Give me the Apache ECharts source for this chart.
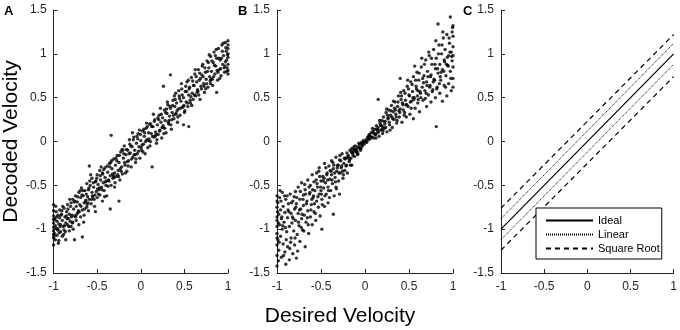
<!DOCTYPE html>
<html>
<head>
<meta charset="utf-8">
<script src="https://cdn.jsdelivr.net/npm/echarts@6/dist/echarts.min.js"></script>
<style>
  html, body { margin: 0; padding: 0; background: #fff; }
  #chart { width: 680px; height: 330px; }
</style>
</head>
<body>
<div id="chart"></div>
<script>
// Тики осей
const xTicks = [-1, -0.5, 0, 0.5, 1];
const yTicks = [-1.5, -1, -0.5, 0, 0.5, 1, 1.5];

// A: desired vs decoded (ровный разброс)
const pointsA = [
  [-1.00,-0.72],[-1.00,-0.85],[-1.00,-0.93],[-1.00,-1.02],[-1.00,-1.10],[-1.00,-0.98],[-1.00,-1.18],[-0.99,-0.88],[-0.99,-1.05],[-0.98,-0.96],
  [-0.98,-1.12],[-0.97,-0.80],[-0.97,-0.99],[-0.96,-0.91],[-0.96,-1.07],[-0.95,-0.84],[-0.95,-1.00],[-0.94,-0.94],[-0.94,-1.13],[-0.93,-0.78],
  [-0.93,-0.87],[-0.92,-1.03],[-0.92,-0.95],[-0.91,-0.83],[-0.90,-1.08],[-0.90,-0.90],[-0.89,-0.97],[-0.88,-0.76],[-0.88,-1.01],[-0.87,-0.86],
  [-0.86,-0.93],[-0.86,-1.12],[-0.85,-0.80],[-0.84,-0.95],[-0.84,-0.72],[-0.83,-0.88],[-0.82,-1.02],[-0.82,-0.83],[-0.81,-0.91],[-0.80,-0.70],
  [-0.80,-0.97],[-0.79,-0.84],[-0.78,-0.66],[-0.78,-0.92],[-0.77,-0.77],[-0.76,-1.12],[-0.76,-0.85],[-0.75,-0.62],[-0.74,-0.74],[-0.74,-0.90],
  [-0.73,-0.69],[-0.72,-0.81],[-0.71,-0.58],[-0.71,-0.95],[-0.70,-0.72],[-0.69,-0.64],[-0.69,-0.86],[-0.68,-0.53],[-0.67,-0.78],[-0.67,-1.09],
  [-0.66,-0.62],[-0.65,-0.70],[-0.65,-0.84],[-0.64,-0.56],[-0.63,-0.67],[-0.62,-0.75],[-0.62,-0.48],[-0.61,-0.63],[-0.60,-0.79],[-0.60,-0.55],
  [-0.59,-0.66],[-0.59,-0.28],[-0.58,-0.50],[-0.57,-0.71],[-0.56,-0.58],[-0.56,-0.42],[-0.55,-0.63],[-0.54,-0.52],[-0.53,-0.74],[-0.52,-0.80],
  [-0.52,-0.46],[-0.51,-0.57],[-0.50,-0.38],[-0.50,-0.64],[-0.49,-0.49],[-0.48,-0.55],[-0.47,-0.33],[-0.47,-0.61],[-0.46,-0.44],[-0.45,-0.52],
  [-0.44,-0.68],[-0.44,-0.36],[-0.43,-0.47],[-0.42,-0.56],[-0.41,-0.30],[-0.41,-0.41],[-0.40,-0.50],[-0.39,-0.62],[-0.38,-0.35],[-0.37,-0.44],
  [-0.36,-0.25],[-0.35,-0.77],[-0.35,-0.39],[-0.34,0.07],[-0.34,-0.50],[-0.33,-0.31],[-0.32,-0.42],[-0.31,-0.20],[-0.30,-0.36],[-0.30,-0.52],
  [-0.29,-0.27],[-0.28,-0.40],[-0.27,-0.16],[-0.26,-0.33],[-0.25,-0.68],[-0.25,-0.24],[-0.24,-0.44],[-0.23,-0.12],[-0.22,-0.29],[-0.21,-0.37],
  [-0.20,-0.19],[-0.19,-0.05],[-0.18,-0.27],[-0.17,-0.15],[-0.16,-0.34],[-0.15,-0.10],[-0.14,-0.22],[-0.13,0.02],[-0.12,-0.13],[-0.11,-0.29],
  [-0.10,-0.06],[-0.09,-0.18],[-0.08,0.05],[-0.07,-0.10],[-0.06,-0.24],[-0.05,-0.02],[-0.04,-0.14],[-0.03,0.09],[-0.02,-0.06],[-0.01,-0.19],
  [0.00,0.01],[0.01,-0.10],[0.02,0.12],[0.03,-0.03],[0.04,0.06],[0.05,-0.14],[0.06,0.15],[0.07,0.02],[0.08,-0.07],[0.09,0.10],
  [0.10,0.20],[0.11,0.00],[0.12,0.09],[0.13,-0.29],[0.14,0.17],[0.15,0.05],[0.16,0.25],[0.17,0.11],[0.18,-0.02],[0.19,0.19],
  [0.20,0.08],[0.21,0.30],[0.22,0.13],[0.23,0.22],[0.24,0.04],[0.25,0.27],[0.26,0.63],[0.26,0.16],[0.27,0.36],[0.28,0.24],
  [0.29,0.10],[0.30,0.32],[0.31,0.42],[0.32,0.20],[0.33,0.29],[0.34,0.76],[0.34,0.38],[0.35,0.14],[0.36,0.33],[0.37,0.47],
  [0.38,0.26],[0.39,0.40],[0.40,0.55],[0.40,0.31],[0.41,0.44],[0.42,0.22],[0.43,0.37],[0.44,0.52],[0.45,0.30],[0.46,0.46],
  [0.47,0.60],[0.48,0.39],[0.49,0.19],[0.49,0.50],[0.50,0.33],[0.51,0.57],[0.52,0.45],[0.53,0.68],[0.54,0.40],[0.55,0.17],
  [0.55,0.53],[0.56,0.62],[0.57,0.44],[0.58,0.73],[0.59,0.55],[0.60,0.48],[0.61,0.64],[0.62,0.77],[0.63,0.52],[0.64,0.68],
  [0.65,0.59],[0.66,0.82],[0.67,0.70],[0.68,0.48],[0.69,0.63],[0.70,0.76],[0.71,0.88],[0.72,0.66],[0.73,0.56],[0.74,0.79],
  [0.75,0.71],[0.76,0.92],[0.77,0.62],[0.78,0.84],[0.79,0.74],[0.80,0.97],[0.80,0.66],[0.81,0.80],[0.82,0.71],[0.83,0.90],
  [0.84,1.02],[0.85,0.77],[0.86,0.86],[0.87,0.56],[0.87,0.95],[0.88,0.70],[0.89,1.06],[0.90,0.82],[0.91,0.93],[0.92,0.75],
  [0.93,1.10],[0.94,0.88],[0.95,0.98],[0.96,0.79],[0.97,1.13],[0.97,0.91],[0.98,1.03],[0.99,0.84],[1.00,0.96],[1.00,1.15],
  [1.00,0.77],[1.00,1.06],[1.00,0.88],
  [-0.985,-0.89],[-0.955,-1.01],[-0.915,-0.84],[-0.875,-0.96],[-0.835,-0.77],[-0.795,-0.86],[-0.755,-0.68],[-0.715,-0.79],[-0.675,-0.61],[-0.635,-0.69],
  [-0.595,-0.53],[-0.555,-0.62],[-0.515,-0.45],[-0.475,-0.53],[-0.435,-0.37],[-0.395,-0.45],[-0.355,-0.29],[-0.315,-0.39],[-0.275,-0.22],[-0.235,-0.31],
  [-0.195,-0.14],[-0.155,-0.23],[-0.115,-0.05],[-0.075,-0.15],[-0.035,0.03],[0.005,-0.07],[0.045,0.10],[0.085,0.01],[0.125,0.17],[0.165,0.06],
  [0.205,0.25],[0.245,0.16],[0.285,0.33],[0.325,0.24],[0.365,0.41],[0.405,0.32],[0.445,0.49],[0.485,0.40],[0.525,0.57],[0.565,0.47],
  [0.605,0.64],[0.645,0.56],[0.685,0.72],[0.725,0.63],[0.765,0.80],[0.805,0.71],[0.845,0.87],[0.885,0.79],[0.925,0.95],[0.965,0.86],
  [-0.995,-1.08],[-0.965,-0.86],[-0.935,-1.04],[-0.905,-0.79],[-0.885,-1.06],[-0.855,-0.85],[-0.825,-0.97],[-0.805,-0.74],[-0.785,-0.93],[-0.765,-0.69],
  [-0.745,-0.86],[-0.725,-0.63],[-0.705,-0.80],[-0.685,-0.74],[-0.665,-0.56],[-0.645,-0.77],[-0.625,-0.60],[-0.605,-0.70],[-0.585,-0.45],[-0.565,-0.66],
  [-0.545,-0.47],[-0.525,-0.61],[-0.505,-0.42],[-0.485,-0.60],[-0.465,-0.39],[-0.445,-0.55],[-0.425,-0.32],[-0.405,-0.46],[-0.385,-0.28],[-0.365,-0.45],
  [-0.345,-0.24],[-0.325,-0.37],[-0.305,-0.41],[-0.285,-0.19],[-0.265,-0.38],[-0.245,-0.16],[-0.225,-0.34],[-0.205,-0.10],[-0.185,-0.24],[-0.165,-0.09],
  [-0.145,-0.28],[-0.125,-0.03],[-0.105,-0.20],[-0.085,0.02],[-0.065,-0.15],[-0.045,0.06],[-0.025,-0.11],[-0.005,0.08],[0.015,-0.04],[0.035,0.14],
  [0.055,0.00],[0.075,0.17],[0.095,0.03],[0.115,0.20],[0.135,0.06],[0.155,0.23],[0.175,0.08],[0.195,0.27],[0.215,0.12],[0.235,0.31],
  [0.255,0.18],[0.275,0.15],[0.295,0.37],[0.315,0.22],[0.335,0.40],[0.355,0.25],[0.375,0.30],[0.395,0.48],[0.415,0.35],[0.435,0.58],
  [0.455,0.38],[0.475,0.53],[0.495,0.41],[0.515,0.63],[0.535,0.44],[0.555,0.60],[0.575,0.51],[0.595,0.69],[0.615,0.53],[0.635,0.74],
  [0.655,0.57],[0.675,0.78],[0.695,0.60],[0.715,0.74],[0.735,0.84],[0.755,0.66],[0.775,0.90],[0.795,0.69],[0.815,0.92],[0.835,0.74],
  [0.855,0.98],[0.875,0.81],[0.895,0.95],[0.915,0.83],[0.935,1.03],[0.955,0.84],[0.975,1.07],[0.985,0.80],[0.995,0.99],
  [-0.975,-0.74],[-0.945,-1.16],[-0.925,-0.97],[-0.895,-0.74],[-0.865,-1.03],[-0.845,-0.88],[-0.815,-0.66],[-0.775,-1.00],[-0.735,-0.83],[-0.695,-0.56],
  [-0.655,-0.92],[-0.615,-0.72],[-0.575,-0.38],[-0.535,-0.66],[-0.495,-0.54],[-0.455,-0.29],[-0.415,-0.63],[-0.375,-0.51],[-0.335,-0.22],[-0.295,-0.47],
  [-0.255,-0.40],[-0.215,-0.09],[-0.175,-0.36],[-0.135,-0.14],[-0.095,0.10],[-0.055,-0.20],[-0.015,0.13],[0.025,-0.12],[0.065,0.21],[0.105,-0.05],
  [0.145,0.31],[0.185,0.02],[0.225,0.38],[0.265,0.09],[0.305,0.45],[0.345,0.19],[0.385,0.52],[0.425,0.28],[0.465,0.66],[0.505,0.35],
  [0.545,0.70],[0.585,0.41],[0.625,0.82],[0.665,0.53],[0.705,0.86],[0.745,0.60],[0.785,0.99],[0.825,0.64],[0.865,1.05],[0.905,0.72],
  [0.945,1.12],[0.985,0.93],[1.00,0.81],[1.00,1.00],[1.00,1.10],[-1.00,-0.79],[-1.00,-1.06],[-1.00,-0.89]
];

// B: разброс растёт к краям
const pointsB = [
  [-1.00,-0.62],[-1.00,-0.75],[-1.00,-0.86],[-1.00,-0.97],[-1.00,-1.05],[-1.00,-1.18],[-1.00,-1.30],[-1.00,-0.90],[-1.00,-1.42],[-0.99,-0.70],
  [-0.99,-1.12],[-0.98,-0.83],[-0.98,-1.24],[-0.97,-0.95],[-0.97,-0.64],[-0.96,-1.08],[-0.96,-0.78],[-0.95,-1.32],[-0.95,-0.88],[-0.94,-1.00],
  [-0.94,-0.58],[-0.93,-1.17],[-0.93,-0.74],[-0.92,-0.92],[-0.91,-1.26],[-0.91,-0.81],[-0.90,-0.66],[-0.90,-1.40],[-0.89,-1.03],[-0.88,-0.87],
  [-0.88,-1.20],[-0.87,-0.71],[-0.86,-0.97],[-0.86,-1.35],[-0.85,-0.60],[-0.84,-1.10],[-0.84,-0.82],[-0.83,-0.93],[-0.82,-1.28],[-0.82,-0.68],
  [-0.81,-1.02],[-0.80,-0.77],[-0.80,-1.18],[-0.79,-0.57],[-0.79,-0.90],[-0.78,-1.33],[-0.78,-0.71],[-0.77,-1.06],[-0.76,-0.82],[-0.76,-0.52],
  [-0.75,-0.96],[-0.74,-0.66],[-0.74,-1.14],[-0.73,-0.77],[-0.72,-0.47],[-0.72,-0.88],[-0.71,-1.01],[-0.70,-0.61],[-0.70,-0.73],[-0.69,-0.84],
  [-0.68,-1.20],[-0.68,-0.55],[-0.67,-0.92],[-0.66,-0.68],[-0.65,-0.44],[-0.65,-0.79],[-0.64,-1.05],[-0.63,-0.60],[-0.62,-0.86],[-0.62,-0.50],
  [-0.61,-0.72],[-0.60,-0.95],[-0.60,-0.38],[-0.59,-0.64],[-0.58,-0.80],[-0.58,-0.46],[-0.57,-0.56],[-0.56,-0.90],[-0.55,-0.36],[-0.55,-0.68],
  [-0.54,-0.52],[-0.53,-0.75],[-0.52,-0.30],[-0.52,-0.60],[-0.51,-0.85],[-0.50,-0.45],[-0.50,-0.56],[-0.49,-1.00],[-0.49,-0.66],[-0.48,-0.40],
  [-0.47,-0.53],[-0.46,-0.74],[-0.46,-0.25],[-0.45,-0.47],[-0.44,-0.60],[-0.43,-0.36],[-0.42,-0.52],[-0.42,-0.70],[-0.41,-0.28],[-0.40,-0.43],
  [-0.39,-0.56],[-0.38,-0.22],[-0.38,-0.38],[-0.37,-0.48],[-0.36,-0.83],[-0.36,-0.31],[-0.35,-0.62],[-0.34,-0.41],[-0.33,-0.18],[-0.33,-0.52],
  [-0.32,-0.34],[-0.31,-0.27],[-0.30,-0.45],[-0.29,-0.60],[-0.29,-0.21],[-0.28,-0.36],[-0.27,-0.30],[-0.26,-0.14],[-0.25,-0.42],[-0.24,-0.25],
  [-0.23,-0.33],[-0.22,-0.19],[-0.21,-0.27],[-0.20,-0.36],[-0.19,-0.16],[-0.18,-0.23],[-0.17,-0.10],[-0.16,-0.19],[-0.15,-0.27],[-0.14,-0.13],
  [-0.13,-0.09],[-0.12,-0.17],[-0.11,-0.05],[-0.10,-0.12],[-0.09,-0.08],[-0.08,-0.14],[-0.07,-0.02],[-0.06,-0.07],[-0.05,-0.10],[-0.04,-0.01],
  [-0.03,-0.05],[-0.02,0.01],[-0.01,-0.03],[0.00,0.00],[-0.15,-0.08],[-0.12,-0.11],[-0.09,-0.12],[-0.06,-0.03],[-0.03,-0.02],[0.01,0.02],
  [0.02,-0.01],[0.03,0.05],[0.04,0.02],[0.05,0.08],[0.06,0.03],[0.07,0.10],[0.08,0.05],[0.09,0.12],[0.10,0.04],[0.11,0.14],
  [0.12,0.08],[0.13,0.18],[0.14,0.10],[0.15,0.48],[0.15,0.16],[0.16,0.06],[0.17,0.21],[0.18,0.13],[0.19,0.24],[0.20,0.09],
  [0.20,0.17],[0.21,0.28],[0.22,0.15],[0.23,0.23],[0.24,0.33],[0.25,0.11],[0.26,0.26],[0.27,0.36],[0.28,0.19],[0.29,0.30],
  [0.30,0.41],[0.31,0.16],[0.32,0.34],[0.33,0.25],[0.34,0.45],[0.35,0.31],[0.36,0.21],[0.37,0.40],[0.38,0.52],[0.39,0.28],
  [0.40,0.72],[0.40,0.37],[0.41,0.48],[0.42,0.22],[0.43,0.42],[0.44,0.58],[0.45,0.33],[0.46,0.47],[0.47,0.28],[0.48,0.63],
  [0.49,0.40],[0.50,0.53],[0.51,0.31],[0.52,0.68],[0.53,0.46],[0.54,0.57],[0.55,0.26],[0.55,0.74],[0.56,0.50],[0.57,0.38],
  [0.58,0.63],[0.59,0.79],[0.60,0.44],[0.60,0.58],[0.61,0.70],[0.62,0.34],[0.63,0.55],[0.64,0.85],[0.65,0.62],[0.66,0.47],
  [0.67,0.75],[0.68,0.58],[0.69,0.93],[0.70,0.40],[0.70,0.68],[0.71,0.80],[0.72,0.53],[0.73,0.98],[0.74,0.64],[0.75,0.45],
  [0.75,0.76],[0.76,0.88],[0.77,0.59],[0.78,1.05],[0.79,0.70],[0.80,0.50],[0.80,0.83],[0.81,0.17],[0.81,0.95],[0.82,0.62],
  [0.83,1.34],[0.83,0.78],[0.84,1.10],[0.85,0.55],[0.85,0.88],[0.86,0.70],[0.87,1.00],[0.88,0.46],[0.88,0.82],[0.89,1.18],
  [0.90,0.64],[0.90,0.93],[0.91,1.05],[0.92,0.75],[0.93,0.52],[0.93,1.22],[0.94,0.87],[0.95,0.98],[0.95,0.66],[0.96,1.12],
  [0.97,1.42],[0.97,0.80],[0.98,1.02],[0.98,0.58],[0.99,0.92],[0.99,1.25],[1.00,0.72],[1.00,1.08],[1.00,0.85],[1.00,1.20],
  [1.00,0.98],
  [-0.985,-0.93],[-0.945,-0.86],[-0.905,-0.98],[-0.865,-0.80],[-0.825,-0.86],[-0.785,-0.75],[-0.745,-0.78],[-0.705,-0.66],[-0.665,-0.71],[-0.625,-0.58],
  [-0.585,-0.62],[-0.545,-0.48],[-0.505,-0.52],[-0.465,-0.42],[-0.425,-0.44],[-0.385,-0.34],[-0.345,-0.36],[-0.305,-0.27],[-0.265,-0.28],[-0.225,-0.20],
  [-0.185,-0.19],[-0.145,-0.13],[-0.105,-0.10],[0.105,0.09],[0.145,0.13],[0.185,0.18],[0.225,0.20],[0.265,0.27],[0.305,0.28],[0.345,0.36],
  [0.385,0.35],[0.425,0.44],[0.465,0.42],[0.505,0.52],[0.545,0.50],[0.585,0.60],[0.625,0.57],[0.665,0.67],[0.705,0.64],[0.745,0.74],
  [0.785,0.71],[0.825,0.83],[0.865,0.79],[0.905,0.91],[0.945,0.86],[0.985,0.97],
  [-0.995,-0.80],[-0.975,-1.15],[-0.955,-0.68],[-0.935,-0.96],[-0.915,-0.62],[-0.895,-1.12],[-0.875,-0.78],[-0.855,-1.22],[-0.835,-0.70],[-0.815,-0.88],
  [-0.795,-1.10],[-0.775,-0.64],[-0.755,-0.92],[-0.735,-0.57],[-0.715,-0.83],[-0.695,-1.02],[-0.675,-0.60],[-0.655,-0.87],[-0.635,-0.52],[-0.615,-0.78],
  [-0.595,-0.55],[-0.575,-0.71],[-0.555,-0.44],[-0.535,-0.63],[-0.515,-0.40],[-0.495,-0.60],[-0.475,-0.45],[-0.455,-0.62],[-0.435,-0.38],[-0.415,-0.56],
  [-0.395,-0.33],[-0.375,-0.44],[-0.355,-0.27],[-0.335,-0.46],[-0.315,-0.30],[-0.295,-0.36],[-0.275,-0.22],[-0.255,-0.34],[-0.235,-0.19],[-0.215,-0.28],
  [-0.195,-0.17],[-0.175,-0.21],[-0.155,-0.12],[-0.135,-0.16],[-0.115,-0.09],[-0.095,-0.11],[-0.075,-0.06],[-0.055,-0.08],[-0.035,-0.04],[-0.015,-0.01],
  [0.015,0.00],[0.035,0.04],[0.055,0.06],[0.075,0.05],[0.095,0.10],[0.115,0.08],[0.135,0.14],[0.155,0.11],[0.175,0.19],[0.195,0.14],
  [0.215,0.23],[0.235,0.16],[0.255,0.30],[0.275,0.22],[0.295,0.35],[0.315,0.26],[0.335,0.38],[0.355,0.28],[0.375,0.45],[0.395,0.33],
  [0.415,0.52],[0.435,0.36],[0.455,0.55],[0.475,0.42],[0.495,0.60],[0.515,0.45],[0.535,0.65],[0.555,0.48],[0.575,0.70],[0.595,0.52],
  [0.615,0.78],[0.635,0.50],[0.655,0.72],[0.675,0.88],[0.695,0.55],[0.715,0.74],[0.735,0.62],[0.755,0.95],[0.775,0.68],[0.795,0.88],
  [0.815,0.60],[0.835,1.00],[0.855,0.74],[0.875,1.10],[0.895,0.80],[0.915,0.62],[0.935,0.96],[0.955,1.18],[0.975,0.72],[0.995,1.30],
  [-0.985,-1.36],[-0.965,-0.56],[-0.925,-1.30],[-0.885,-0.62],[-0.845,-1.15],[-0.805,-0.63],[-0.765,-1.25],[-0.725,-0.98],[-0.685,-0.49],[-0.645,-0.95],
  [-0.605,-0.66],[-0.565,-0.82],[-0.525,-0.34],[-0.485,-0.72],[-0.445,-0.30],[-0.405,-0.64],[-0.365,-0.24],[-0.325,-0.54],[-0.285,-0.16],[-0.245,-0.38],
  [-0.205,-0.13],[-0.165,-0.27],[-0.125,-0.06],[-0.085,-0.15],[-0.045,-0.08],[0.045,0.07],[0.085,0.15],[0.125,0.04],[0.165,0.24],[0.205,0.12],
  [0.245,0.37],[0.285,0.13],[0.325,0.46],[0.365,0.24],[0.405,0.56],[0.445,0.30],[0.485,0.70],[0.525,0.38],[0.565,0.86],[0.605,0.48],
  [0.645,0.95],[0.685,0.49],[0.725,1.02],[0.765,0.57],[0.805,1.15],[0.845,0.66],[0.885,1.25],[0.925,0.88],[0.965,1.02],[1.00,0.62],
  [1.00,1.32],[-1.00,-1.10],[-1.00,-0.68]
];

// C: линии
const lineX = [-1, 1];
const idealY = [-1, 1];
const linearUpperY = [-0.88, 1.12];
const linearLowerY = [-1.12, 0.88];
const sqrtUpperY = [-0.76, 1.22];
const sqrtLowerY = [-1.24, 0.74];

const FONT = 'Liberation Sans, Arial, sans-serif';
const AXIS_COLOR = '#262626';

const pairs = (ys) => lineX.map((x, i) => [x, ys[i]]);

const grids = [
    {left: 52, right: 452, top: 10, bottom: 57},
    {left: 277, right: 227, top: 10, bottom: 57},
    {left: 501, right: 2, top: 10, bottom: 57}
];

function makeX(idx) {
    return {
        type: 'value', gridIndex: idx,
        min: xTicks[0], max: xTicks[xTicks.length - 1], interval: 0.5,
        axisLine: {show: true, onZero: false, lineStyle: {color: AXIS_COLOR, width: 1}},
        axisTick: {show: true, inside: true, length: 4, lineStyle: {color: AXIS_COLOR}},
        axisLabel: {color: AXIS_COLOR, fontSize: 12, fontFamily: FONT, margin: 8},
        splitLine: {show: false}
    };
}

function makeY(idx) {
    const ax = {
        type: 'value', gridIndex: idx,
        min: yTicks[0], max: yTicks[yTicks.length - 1], interval: 0.5,
        axisLine: {show: true, onZero: false, lineStyle: {color: AXIS_COLOR, width: 1}},
        axisTick: {show: true, inside: true, length: 4, lineStyle: {color: AXIS_COLOR}},
        axisLabel: {color: AXIS_COLOR, fontSize: 12, fontFamily: FONT, margin: 7},
        splitLine: {show: false}
    };
    if (idx === 0) {
        ax.name = 'Decoded Velocity';
        ax.nameLocation = 'middle';
        ax.nameGap = 30;
        ax.nameTextStyle = {color: '#000', fontSize: 21, fontFamily: FONT};
    }
    return ax;
}

const scatterStyle = {color: '#000'};
const letterStyle = {fontSize: 13, fontWeight: 'bold', fontFamily: FONT, color: '#000'};

const chart = echarts.init(document.getElementById('chart'), null, {renderer: 'canvas'});
chart.setOption({
    animation: false,
    backgroundColor: '#fff',
    title: [
        {text: 'A', left: 0, top: 0, padding: [5, 4], textStyle: letterStyle},
        {text: 'B', left: 234, top: 0, padding: [5, 4], textStyle: letterStyle},
        {text: 'C', left: 459, top: 0, padding: [5, 4], textStyle: letterStyle}
    ],
    graphic: [{
        type: 'text', left: 'center', top: 306,
        style: {text: 'Desired Velocity', font: '21px ' + FONT, fill: '#000'}
    }],
    legend: {
        data: ['Ideal', 'Linear', 'Square Root'],
        orient: 'vertical',
        left: 536, top: 208,
        padding: [7, 2, 5, 9],
        itemGap: 3,
        itemWidth: 47, itemHeight: 10,
        borderColor: '#000', borderWidth: 1,
        backgroundColor: '#fff',
        itemStyle: {opacity: 0},
        textStyle: {fontSize: 11, fontFamily: FONT, color: '#000'}
    },
    grid: grids,
    xAxis: [makeX(0), makeX(1), makeX(2)],
    yAxis: [makeY(0), makeY(1), makeY(2)],
    series: [
        {type: 'scatter', xAxisIndex: 0, yAxisIndex: 0, data: pointsA, symbolSize: 3.4, itemStyle: scatterStyle},
        {type: 'scatter', xAxisIndex: 1, yAxisIndex: 1, data: pointsB, symbolSize: 3.4, itemStyle: scatterStyle},
        {name: 'Ideal', type: 'line', xAxisIndex: 2, yAxisIndex: 2, data: pairs(idealY), symbol: 'none',
            lineStyle: {color: '#000', width: 1.2, type: 'solid'}, itemStyle: {color: '#000'}},
        {name: 'Linear', type: 'line', xAxisIndex: 2, yAxisIndex: 2, data: pairs(linearUpperY), symbol: 'none',
            lineStyle: {color: '#000', width: 1, type: [1, 1]}, itemStyle: {color: '#000'}},
        {name: 'Linear', type: 'line', xAxisIndex: 2, yAxisIndex: 2, data: pairs(linearLowerY), symbol: 'none',
            lineStyle: {color: '#000', width: 1, type: [1, 1]}, itemStyle: {color: '#000'}},
        {name: 'Square Root', type: 'line', xAxisIndex: 2, yAxisIndex: 2, data: pairs(sqrtUpperY), symbol: 'none',
            lineStyle: {color: '#000', width: 1.2, type: [5, 4]}, itemStyle: {color: '#000'}},
        {name: 'Square Root', type: 'line', xAxisIndex: 2, yAxisIndex: 2, data: pairs(sqrtLowerY), symbol: 'none',
            lineStyle: {color: '#000', width: 1.2, type: [5, 4]}, itemStyle: {color: '#000'}}
    ]
});
</script>
</body>
</html>
